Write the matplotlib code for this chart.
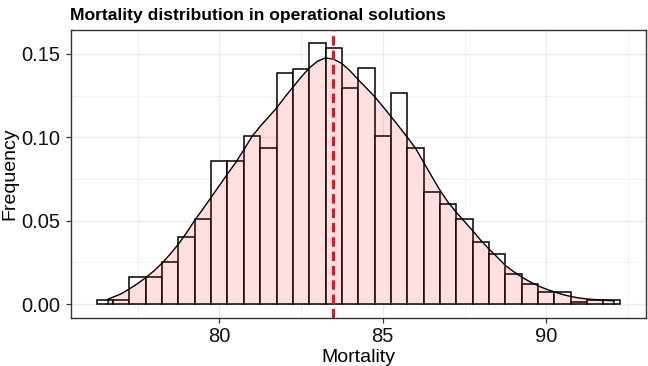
import matplotlib
matplotlib.use("Agg")
import matplotlib.pyplot as plt

plt.rcParams["font.family"] = ["Liberation Sans", "DejaVu Sans"]

# histogram (density scale), bins of width 0.5 centred on these values
bin_centers = [76.5, 77.0, 77.5, 78.0, 78.5, 79.0, 79.5, 80.0, 80.5, 81.0, 81.5,
               82.0, 82.5, 83.0, 83.5, 84.0, 84.5, 85.0, 85.5, 86.0, 86.5, 87.0,
               87.5, 88.0, 88.5, 89.0, 89.5, 90.0, 90.5, 91.0, 91.5, 92.0]
bin_density = [0.0027, 0.0027, 0.0163, 0.0163, 0.0252, 0.0405, 0.0510, 0.0856,
               0.0856, 0.1007, 0.0934, 0.1385, 0.1412, 0.1565, 0.1538, 0.1295,
               0.1414, 0.1009, 0.1265, 0.0934, 0.0675, 0.0600, 0.0509, 0.0372,
               0.0298, 0.0178, 0.0118, 0.0070, 0.0071, 0.0013, 0.0026, 0.0026]
bin_width = 0.5

# kernel density curve
dens_x = [76.6, 76.75, 77.0, 77.25, 77.5, 77.75, 78.0, 78.25, 78.5, 78.75, 79.0,
          79.25, 79.5, 79.75, 80.0, 80.25, 80.5, 80.75, 81.0, 81.25, 81.5, 81.75,
          82.0, 82.25, 82.5, 82.75, 83.0, 83.25, 83.5, 83.75, 84.0, 84.25, 84.5,
          84.75, 85.0, 85.25, 85.5, 85.75, 86.0, 86.25, 86.5, 86.75, 87.0, 87.25,
          87.5, 87.75, 88.0, 88.25, 88.5, 88.75, 89.0, 89.25, 89.5, 89.75, 90.0,
          90.25, 90.5, 90.75, 91.0, 91.25, 91.5, 91.75, 92.0, 92.07]
dens_y = [0.0030, 0.0042, 0.0062, 0.0091, 0.0123, 0.0159, 0.0199, 0.0246, 0.0300,
          0.0360, 0.0428, 0.0503, 0.0570, 0.0640, 0.0710, 0.0780, 0.0848, 0.0925,
          0.1005, 0.1065, 0.1120, 0.1175, 0.1240, 0.1300, 0.1360, 0.1415, 0.1455,
          0.1476, 0.1468, 0.1442, 0.1398, 0.1345, 0.1295, 0.1244, 0.1185, 0.1125,
          0.1063, 0.1000, 0.0935, 0.0850, 0.0765, 0.0682, 0.0610, 0.0550, 0.0495,
          0.0440, 0.0382, 0.0330, 0.0282, 0.0232, 0.0195, 0.0162, 0.0134, 0.0110,
          0.0090, 0.0073, 0.0058, 0.0046, 0.0037, 0.0031, 0.0027, 0.0024, 0.0021,
          0.0020]

mean_mortality = 83.47

W, H = 648, 366
fig = plt.figure(figsize=(W / 100, H / 100), dpi=100)
ax = fig.add_axes([70.5 / W, (H - 318) / H, (646 - 70.5) / W, (318 - 30) / H])

# histogram bars: white fill, black outline
ax.bar(bin_centers, bin_density, width=bin_width, color="white",
       edgecolor="black", linewidth=1.1, zorder=2)

# density: translucent pink area with black outline
poly_x = [dens_x[0]] + dens_x + [dens_x[-1]]
poly_y = [0] + dens_y + [0]
ax.fill(poly_x, poly_y, facecolor="#FF0000", alpha=0.12, zorder=3)
ax.plot(poly_x, poly_y, color="black", linewidth=1.0, zorder=4)

# mean line
ax.axvline(mean_mortality, color="#E8141B", linewidth=2.2,
           linestyle=(0, (3.1, 1.6)), zorder=5)

ax.set_xlim(75.45, 93.05)
ax.set_ylim(-0.0083, 0.1643)
ax.set_xticks([80, 85, 90])
ax.set_xticks([77.5, 82.5, 87.5, 92.5], minor=True)
ax.set_yticks([0.0, 0.05, 0.10, 0.15])
ax.set_yticklabels(["0.00", "0.05", "0.10", "0.15"])
ax.set_yticks([0.025, 0.075, 0.125], minor=True)

ax.grid(True, which="major", color="#EBEBEB", linewidth=1.0, zorder=0)
ax.grid(True, which="minor", color="#EBEBEB", linewidth=0.5, zorder=0)
ax.set_axisbelow(True)
for s in ax.spines.values():
    s.set_color("#333333")
    s.set_linewidth(1.0)
ax.tick_params(which="major", length=3.5, width=0.9, color="#333333",
               labelsize=14.5, labelcolor="#111111", pad=3)
ax.tick_params(axis="y", pad=4)
ax.tick_params(which="minor", length=0)

ax.set_xlabel("Mortality", fontsize=14, labelpad=2)
ax.set_ylabel("Frequency", fontsize=14, labelpad=2)
ax.set_title("Mortality distribution in operational solutions", fontsize=12.6,
             fontweight="bold", loc="left", pad=7)

fig.savefig("out.png", dpi=100)
